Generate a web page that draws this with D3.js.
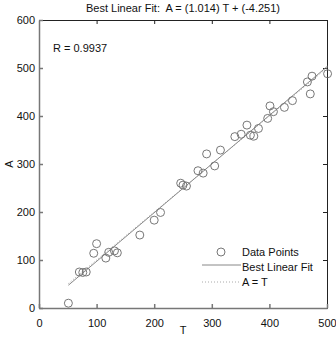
<!DOCTYPE html>
<html lang="en">
<head>
<meta charset="utf-8" />
<title>Best Linear Fit</title>
<style>
  * { margin: 0; padding: 0; }
  body { background: white; font-family: "Liberation Sans", Arial, sans-serif; }
  svg { display: block; }
  .tick text { font-family: "Liberation Sans", Arial, sans-serif; font-size: 11px; fill: #111; }
</style>
</head>
<body>
<script src="https://d3js.org/d3.v7.min.js"></script>
<div id="chart"></div>
<script>
  // targets T and outputs A
  var tValues = [51, 70, 76, 82, 95, 100, 116, 121, 131, 136, 175, 200, 211, 246, 250, 256,
                 276, 285, 291, 305, 315, 340, 351, 361, 367, 373, 381, 397, 401, 407, 426,
                 440, 466, 471, 474, 501];
  var aValues = [10, 75, 74, 75, 114, 134, 104, 116, 119, 115, 152, 183, 199, 260, 256, 254,
                 286, 281, 321, 296, 329, 357, 362, 381, 360, 358, 374, 395, 421, 409, 418,
                 432, 471, 446, 483, 488];
  var xTicks = [0, 100, 200, 300, 400, 500];
  var yTicks = [0, 100, 200, 300, 400, 500, 600];
  var slope = 1.014, intercept = -4.251, rValue = 0.9937;
  var legendLabels = ["Data Points", "Best Linear Fit", "A = T"];

  var W = 336, H = 338;
  var x = d3.scaleLinear().domain([0, 500]).range([39, 327]);
  var y = d3.scaleLinear().domain([0, 600]).range([308, 20]);

  var svg = d3.select("#chart").append("svg")
      .attr("width", W).attr("height", H);

  // frame: top/right dark, ticks inside on all sides
  svg.append("g").attr("transform", "translate(0," + y(600) + ")")
      .call(d3.axisBottom(x).tickValues(xTicks).tickSize(4).tickFormat(""))
      .call(function(g) { g.selectAll("line,path").attr("stroke", "#222"); });
  svg.append("g").attr("transform", "translate(" + x(500) + ",0)")
      .call(d3.axisLeft(y).tickValues(yTicks).tickSize(4).tickFormat(""))
      .call(function(g) { g.selectAll("line,path").attr("stroke", "#222"); });

  var xAxis = svg.append("g").attr("transform", "translate(0," + y(0) + ")")
      .call(d3.axisTop(x).tickValues(xTicks).tickSize(4).tickPadding(-15).tickSizeOuter(0));
  xAxis.selectAll("line,path").attr("stroke", "#777").attr("stroke-width", 1.5);
  xAxis.selectAll("text").attr("dy", "0.71em");

  var yAxis = svg.append("g").attr("transform", "translate(" + x(0) + ",0)")
      .call(d3.axisRight(y).tickValues(yTicks).tickSize(4).tickPadding(-8).tickSizeOuter(0));
  yAxis.selectAll("line,path").attr("stroke", "#777").attr("stroke-width", 1.5);
  yAxis.selectAll("text").attr("text-anchor", "end");

  var tMin = d3.min(tValues), tMax = d3.max(tValues);

  // A = T line over the data range
  svg.append("line")
      .attr("x1", x(tMin)).attr("y1", y(tMin)).attr("x2", x(tMax)).attr("y2", y(tMax))
      .attr("stroke", "#aaa").attr("stroke-width", 1).attr("stroke-dasharray", "1,2");

  // best linear fit over the data range
  svg.append("line")
      .attr("x1", x(tMin)).attr("y1", y(slope * tMin + intercept))
      .attr("x2", x(tMax)).attr("y2", y(slope * tMax + intercept))
      .attr("stroke", "#888").attr("stroke-width", 1);

  svg.selectAll(".dot")
      .data(d3.range(tValues.length))
    .enter().append("circle")
      .attr("class", "dot")
      .attr("cx", function(i) { return x(tValues[i]); })
      .attr("cy", function(i) { return y(aValues[i]); })
      .attr("r", 4)
      .attr("fill", "none")
      .attr("stroke", "#777")
      .attr("stroke-width", 1);

  // texts
  svg.append("text").attr("x", 183).attr("y", 12).attr("text-anchor", "middle")
      .style("font-size", "11px").attr("fill", "#111")
      .text("Best Linear Fit:  A = (" + slope.toFixed(3) + ") T + (" + intercept.toFixed(3) + ")")
      .attr("xml:space", "preserve").style("white-space", "pre");
  svg.append("text").attr("x", 53).attr("y", 52)
      .style("font-size", "11px").attr("fill", "#111")
      .text("R = " + rValue.toFixed(4));
  svg.append("text").attr("x", 183).attr("y", 334).attr("text-anchor", "middle")
      .style("font-size", "11px").attr("fill", "#111").text("T");
  svg.append("text").attr("transform", "translate(13," + y(300) + ") rotate(-90)")
      .attr("text-anchor", "middle")
      .style("font-size", "11px").attr("fill", "#111").text("A");

  // legend
  var lg = svg.append("g").attr("transform", "translate(200,252)");
  lg.append("circle").attr("cx", 21).attr("cy", 0).attr("r", 4)
      .attr("fill", "none").attr("stroke", "#777");
  lg.append("line").attr("x1", 2).attr("x2", 41).attr("y1", 13).attr("y2", 13)
      .attr("stroke", "#888");
  lg.append("line").attr("x1", 2).attr("x2", 41).attr("y1", 30).attr("y2", 30)
      .attr("stroke", "#aaa").attr("stroke-dasharray", "1,2");
  lg.selectAll(".lbl").data(legendLabels).enter().append("text")
      .attr("x", 42).attr("y", function(d, i) { return 4 + i * 15; })
      .style("font-size", "11px").attr("fill", "#111")
      .text(function(d) { return d; });
</script>
</body>
</html>
